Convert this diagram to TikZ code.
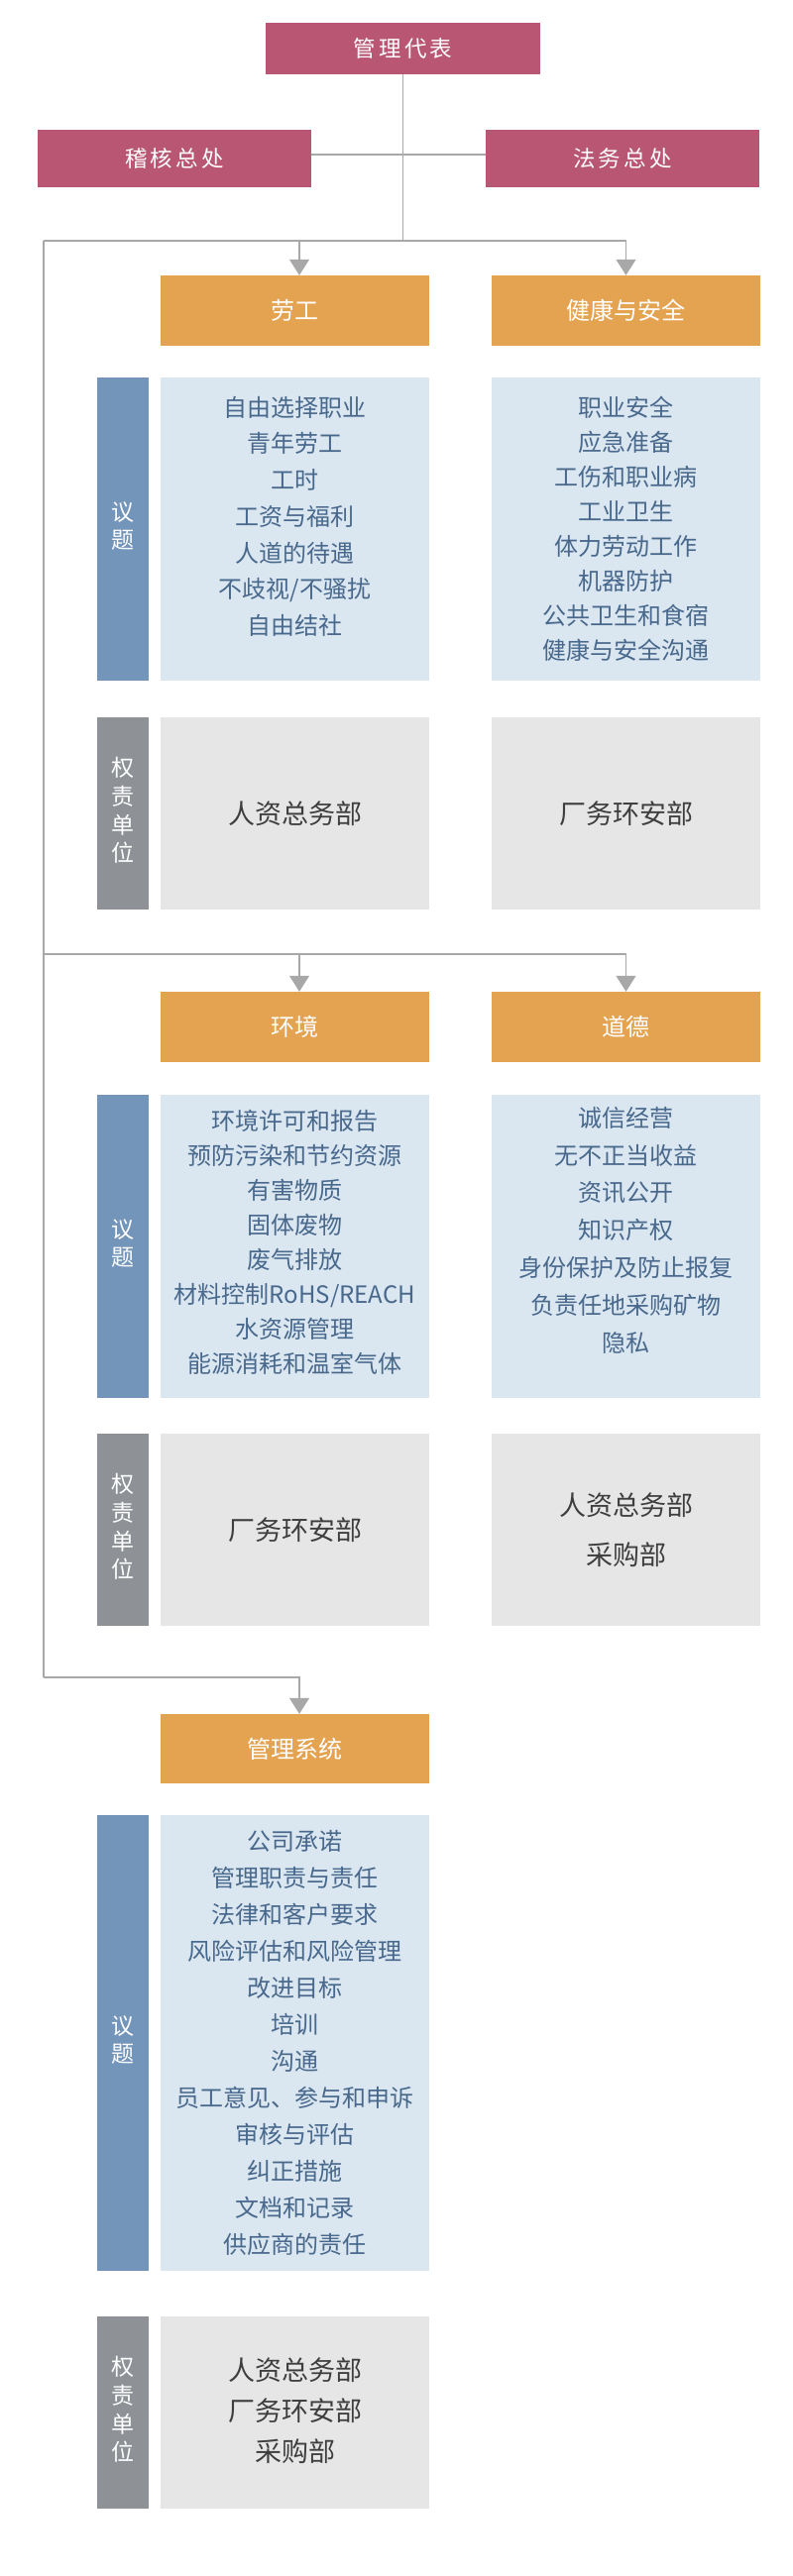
\documentclass[tikz,border=0pt]{standalone}
\usepackage{fontspec}
\setmainfont{Noto Sans CJK SC}
\usepackage{tikz}
\usetikzlibrary{arrows.meta}
\definecolor{headred}{RGB}{184,86,116}
\definecolor{pillarorange}{RGB}{228,163,80}
\definecolor{barblue}{RGB}{116,149,186}
\definecolor{paleblue}{RGB}{218,230,240}
\definecolor{bargray}{RGB}{142,146,151}
\definecolor{palegray}{RGB}{230,230,230}
\definecolor{topicink}{RGB}{72,104,140}
\definecolor{respink}{RGB}{62,62,62}
\definecolor{linegray}{RGB}{168,168,168}

\begin{document}
\begin{tikzpicture}[x=1pt, y=-1pt,
    head/.style={fill=headred, text=white, inner sep=0pt, minimum width=276, minimum height=58, font=\fontsize{22.5}{26}\selectfont\addfontfeature{LetterSpace=14}},
    pillar/.style={fill=pillarorange, text=white, inner sep=0pt, minimum width=271, minimum height=71, font=\fontsize{24}{28}\selectfont},
    topicbar/.style={fill=barblue, text=white, inner sep=0pt, minimum width=52, font=\fontsize{23}{28}\selectfont},
    respbar/.style={fill=bargray, text=white, inner sep=0pt, minimum width=52, minimum height=194, font=\fontsize{23}{28.6}\selectfont},
    topicbox/.style={fill=paleblue, inner sep=0pt, minimum width=271},
    topictext/.style={anchor=north, inner sep=0pt, text=topicink, font=\fontsize{24}{#1}\selectfont},
    respbox/.style={fill=palegray, text=respink, inner sep=0pt, minimum width=271, minimum height=194, font=\fontsize{27}{#1}\selectfont},
    link/.style={draw=linegray, line width=1.3pt},
    arrow/.style={link, -{Triangle[width=20pt,length=16pt]}}]
    \useasboundingbox (0,0) rectangle (800,2600);

    % top of the chart
    \node[head, minimum width=277, minimum height=52] (rep) at (406.5, 49) {管理代表};
    \node[head] (audit) at (176, 160) {稽核总处};
    \node[head] (legal) at (628, 160) {法务总处};
    \coordinate (hub) at (406.5, 243);
    \coordinate (turn1) at (44, 243);
    \coordinate (split1) at (302, 243);

    % labor and health & safety
    \node[pillar] (labor) at (297.5, 313.5) {劳工};
    \node[pillar] (health) at (631.5, 313.5) {健康与安全};
    \node[topicbar, minimum height=306] (topicbar1) at (124, 534) {\begin{tabular}{c}议\\题\end{tabular}};
    \node[topicbox, minimum height=306] (labortopics) at (297.5, 534) {};
    \node[topicbox, minimum height=306] (healthtopics) at (631.5, 534) {};
    \node[topictext=36.7] (labortext) at (297.5, 394.4) {\begin{tabular}{c}自由选择职业\\青年劳工\\工时\\工资与福利\\人道的待遇\\不歧视/不骚扰\\自由结社\end{tabular}};
    \node[topictext=35] (healthtext) at (631.5, 395.6) {\begin{tabular}{c}职业安全\\应急准备\\工伤和职业病\\工业卫生\\体力劳动工作\\机器防护\\公共卫生和食宿\\健康与安全沟通\end{tabular}};
    \node[respbar] (respbar1) at (124, 821) {\begin{tabular}{c}权\\责\\单\\位\end{tabular}};
    \node[respbox=34] (laborresp) at (297.5, 821) {人资总务部};
    \node[respbox=34] (healthresp) at (631.5, 821) {厂务环安部};

    % environment and ethics
    \coordinate (turn2) at (44, 963);
    \coordinate (split2) at (302, 963);
    \node[pillar] (env) at (297.5, 1036.5) {环境};
    \node[pillar] (ethics) at (631.5, 1036.5) {道德};
    \node[topicbar, minimum height=306] (topicbar2) at (124, 1258) {\begin{tabular}{c}议\\题\end{tabular}};
    \node[topicbox, minimum height=306] (envtopics) at (297.5, 1258) {};
    \node[topicbox, minimum height=306] (ethicstopics) at (631.5, 1258) {};
    \node[topictext=35] (envtext) at (297.5, 1115.6) {\begin{tabular}{c}环境许可和报告\\预防污染和节约资源\\有害物质\\固体废物\\废气排放\\材料控制RoHS/REACH\\水资源管理\\能源消耗和温室气体\end{tabular}};
    \node[topictext=37.8] (ethicstext) at (631.5, 1110.6) {\begin{tabular}{c}诚信经营\\无不正当收益\\资讯公开\\知识产权\\身份保护及防止报复\\负责任地采购矿物\\隐私\end{tabular}};
    \node[respbar] (respbar2) at (124, 1544) {\begin{tabular}{c}权\\责\\单\\位\end{tabular}};
    \node[respbox=34] (envresp) at (297.5, 1544) {厂务环安部};
    \node[respbox=50] (ethicsresp) at (631.5, 1544) {\begin{tabular}{c}人资总务部\\采购部\end{tabular}};

    % management system
    \coordinate (turn3) at (44, 1693);
    \coordinate (split3) at (302, 1693);
    \node[pillar, minimum height=70] (mgmt) at (297.5, 1765) {管理系统};
    \node[topicbar, minimum height=460] (topicbar3) at (124, 2062) {\begin{tabular}{c}议\\题\end{tabular}};
    \node[topicbox, minimum height=460] (mgmttopics) at (297.5, 2062) {};
    \node[topictext=37] (mgmttext) at (297.5, 1841.2) {\begin{tabular}{c}公司承诺\\管理职责与责任\\法律和客户要求\\风险评估和风险管理\\改进目标\\培训\\沟通\\员工意见、参与和申诉\\审核与评估\\纠正措施\\文档和记录\\供应商的责任\end{tabular}};
    \node[respbar] (respbar3) at (124, 2435) {\begin{tabular}{c}权\\责\\单\\位\end{tabular}};
    \node[respbox=41] (mgmtresp) at (297.5, 2435) {\begin{tabular}{c}人资总务部\\厂务环安部\\采购部\end{tabular}};

    % connectors
    \draw[link] (rep) -- (hub);
    \draw[link] ([yshift=4pt]audit.east) -- ([yshift=4pt]legal.west);
    \draw[link] (turn1) -- (hub) -- (health.north |- hub);
    \draw[arrow] (split1) -- (split1 |- labor.north);
    \draw[arrow] (health.north |- hub) -- (health);
    \draw[link] (turn1) -- (turn3);
    \draw[link] (turn2) -- (ethics.north |- turn2);
    \draw[arrow] (split2) -- (split2 |- env.north);
    \draw[arrow] (ethics.north |- turn2) -- (ethics);
    \draw[arrow] (turn3) -- (split3) -- (split3 |- mgmt.north);
\end{tikzpicture}
\end{document}
